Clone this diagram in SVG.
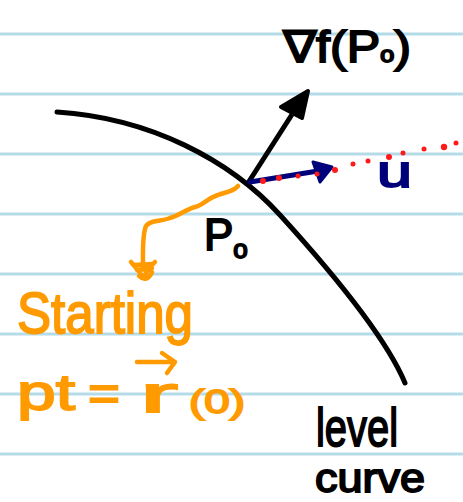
<svg xmlns="http://www.w3.org/2000/svg" width="463" height="502" viewBox="0 0 463 502">
<style>
.rule{stroke:#b4dbe8;stroke-width:3}
.ink{fill:none;stroke:#000;stroke-width:5;stroke-linecap:round;stroke-linejoin:round}
.hand{font-family:"Liberation Sans",Arial,sans-serif}
.blk{fill:#000;stroke:#000;stroke-width:1.8}
.org{fill:#ff9a00;stroke:#ff9a00;stroke-width:1.8}
.ornl{fill:none;stroke:#ff9a00;stroke-width:4.5;stroke-linecap:round;stroke-linejoin:round}
.dot{fill:#ff1a1a}
</style>
<rect width="463" height="502" fill="#fff"/>
<g id="paper">
<line class="rule" x1="0" y1="34" x2="463" y2="34"/>
<line class="rule" x1="0" y1="94" x2="463" y2="94"/>
<line class="rule" x1="0" y1="154" x2="463" y2="154"/>
<line class="rule" x1="0" y1="214" x2="463" y2="214"/>
<line class="rule" x1="0" y1="274" x2="463" y2="274"/>
<line class="rule" x1="0" y1="334" x2="463" y2="334"/>
<line class="rule" x1="0" y1="394" x2="463" y2="394"/>
<line class="rule" x1="0" y1="454" x2="463" y2="454"/>
</g>
<g id="level-curve">
<path class="ink" d="M57,112 C150,118 230,160 280,215 S385,335 405,383"/>
</g>
<g id="connectors">
<g id="gradient-arrow">
<line class="ink" x1="248" y1="183" x2="300" y2="102" stroke-width="6"/>
<polygon points="281,107 308,91 302,118" fill="#000" stroke="#000" stroke-width="4" stroke-linejoin="round"/>
</g>
<g id="u-arrow">
<line x1="250" y1="182" x2="318" y2="171" stroke="#00007a" stroke-width="5" stroke-linecap="round"/>
<polygon points="313,162 332,167 320,182" fill="#00007a" stroke="#00007a" stroke-width="3" stroke-linejoin="round"/>
</g>
<g id="u-dots">
<circle class="dot" cx="263" cy="181" r="3"/>
<circle class="dot" cx="279" cy="178" r="3"/>
<circle class="dot" cx="298" cy="176" r="2.5"/>
<circle class="dot" cx="317" cy="174" r="2.5"/>
<circle class="dot" cx="335" cy="170" r="3"/>
<circle class="dot" cx="353" cy="164" r="2.5"/>
<circle class="dot" cx="368" cy="161" r="2.5"/>
<circle class="dot" cx="389" cy="157" r="3"/>
<circle class="dot" cx="403" cy="153" r="2.5"/>
<circle class="dot" cx="424" cy="149" r="2.5"/>
<circle class="dot" cx="444" cy="147" r="3.2"/>
<circle class="dot" cx="456" cy="143" r="2.5"/>
</g>
<g id="pointer">
<path class="ornl" d="M238,186 C233,192 225,192 218,195 C208,198 203,205 195,207 C185,210 180,215 170,218 C160,222 150,220 146,226 C142,235 143,255 143,268"/>
<path class="ornl" stroke-width="5" d="M131,262 C136,268 140,272 143,278 C147,270 151,266 155,262 M134,265 L152,264 M137,270 L152,268 M139,276 C144,281 149,279 152,272"/>
</g>
</g>
<g id="grad-label">
<text class="hand blk" x="283" y="62" font-size="44" textLength="128" lengthAdjust="spacingAndGlyphs">∇f(P<tspan font-size="22">o</tspan>)</text>
</g>
<g id="p0-label">
<text class="hand blk" x="204" y="250" font-size="44">P<tspan font-size="26" dy="8">o</tspan></text>
</g>
<g id="u-label">
<text class="hand" x="377" y="187" font-size="44" fill="#00007a" stroke="#00007a" stroke-width="1.8" textLength="35" lengthAdjust="spacingAndGlyphs">u</text>
</g>
<g id="start-label">
<text class="hand org" x="17" y="333" font-size="58" textLength="176" lengthAdjust="spacingAndGlyphs">Starting</text>
<text class="hand org" x="17" y="410" font-size="50" textLength="58" lengthAdjust="spacingAndGlyphs">pt</text>
<text class="hand org" x="88" y="410" font-size="50" textLength="32" lengthAdjust="spacingAndGlyphs">=</text>
<text class="hand org" x="140" y="412" font-size="52" textLength="38" lengthAdjust="spacingAndGlyphs">r</text>
<text class="hand org" x="189" y="413" font-size="34" textLength="56" lengthAdjust="spacingAndGlyphs">(0)</text>
<path class="ornl" d="M137,362 L175,362 M162,353 L175,362 L167,373"/>
</g>
<g id="curve-label">
<text class="hand blk" x="316" y="446" font-size="54" textLength="82" lengthAdjust="spacingAndGlyphs">level</text>
<text class="hand blk" x="315" y="492" font-size="40" textLength="110" lengthAdjust="spacingAndGlyphs">curve</text>
</g>
</svg>
